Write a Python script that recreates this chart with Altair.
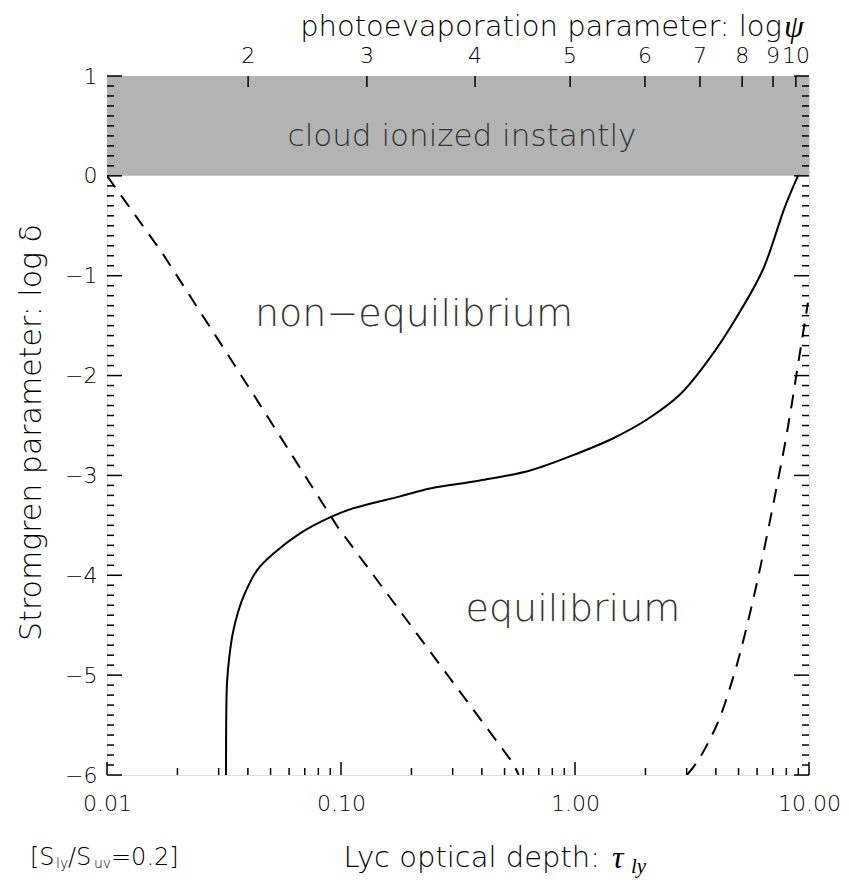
import altair as alt
import pandas as pd

# ---- data ----
solid_tau = [0.03226, 0.03232, 0.03257, 0.03338, 0.03455, 0.03629, 0.03850, 0.04375, 0.05223,
             0.0668, 0.0897, 0.1125, 0.1787, 0.240, 0.392, 0.643, 1.05, 1.45, 2.03, 2.81,
             3.78, 4.92, 6.35, 7.89, 8.97]
solid_logd = [-6.0, -5.45, -5.08, -4.80, -4.57, -4.37, -4.20, -3.95, -3.77,
              -3.58, -3.42, -3.33, -3.21, -3.13, -3.05, -2.95, -2.77, -2.63, -2.44, -2.19,
              -1.82, -1.41, -0.94, -0.31, 0.0]

dash1_tau = [0.01, 0.0172, 0.0428, 0.0970, 0.543, 0.575]
dash1_logd = [0.0, -0.77, -2.21, -3.52, -5.88, -6.0]

dash2_tau = [3.010, 3.322, 3.702, 4.166, 4.924, 5.764, 6.615, 7.297, 7.898, 8.462, 8.974, 9.427, 9.90]
dash2_logd = [-6.0, -5.87, -5.68, -5.42, -4.89, -4.25, -3.60, -3.10, -2.68, -2.27, -1.89, -1.58, -1.27]

psi_labels = ["2", "3", "4", "5", "6", "7", "8", "9", "10"]
psi_tau = [0.0401, 0.129, 0.374, 0.953, 1.99, 3.42, 5.18, 7.02, 8.79]

x_major = [0.01, 0.1, 1.0, 10.0]
x_minor = [m * 10.0 ** e for e in (-2, -1, 0) for m in range(2, 10)]
y_major = list(range(-6, 2))
y_minor = [i / 10 for i in range(-60, 11) if i % 10 != 0]

region_labels = ["cloud ionized instantly", "non\u2212equilibrium", "equilibrium"]
region_x = [0.329, 0.205, 0.98]
region_y = [0.39, -1.39, -4.35]
region_size = [31, 38, 38]

W, H = 702, 699
FONT = "DejaVu Sans"
GREEK = "Liberation Serif"
FW = 200

xscale = alt.Scale(type="log", domain=[0.01, 10])
yscale = alt.Scale(domain=[-6, 1], nice=False, zero=False)

xaxis = alt.Axis(values=x_major, format=".2f", ticks=False, domain=False, grid=False,
                 labelFontSize=22, labelPadding=18, labelFlush=False, title=None,
                 labelFont=FONT, labelFontWeight=FW, labelColor="black")
yaxis = alt.Axis(values=y_major, format="d", ticks=False, domain=False, grid=False,
                 labelFontSize=22, labelPadding=10, title="Stromgren parameter: log \u03b4",
                 titleFontSize=30, titleFont=FONT, titleFontWeight=FW, titlePadding=18,
                 titleY=356,
                 labelFont=FONT, labelFontWeight=FW, labelColor="black", titleColor="black")


def X(f):
    return alt.X(f, type="quantitative", scale=xscale, axis=xaxis)


def Y(f):
    return alt.Y(f, type="quantitative", scale=yscale, axis=yaxis)


band = alt.Chart(pd.DataFrame({"x": [0.01], "x2": [10.0], "y": [0.0], "y2": [1.0]})).mark_rect(
    color="#b3b3b3").encode(x=X("x"), x2="x2", y=Y("y"), y2="y2")

solid = alt.Chart(pd.DataFrame({"x": solid_tau, "y": solid_logd})).mark_line(
    color="black", strokeWidth=2, interpolate="catmull-rom", clip=True).encode(x=X("x"), y=Y("y"))
dash1 = alt.Chart(pd.DataFrame({"x": dash1_tau, "y": dash1_logd})).mark_line(
    color="black", strokeWidth=2, strokeDash=[14, 10], interpolate="linear", clip=True).encode(
    x=X("x"), y=Y("y"))
dash2 = alt.Chart(pd.DataFrame({"x": dash2_tau, "y": dash2_logd})).mark_line(
    color="black", strokeWidth=2, strokeDash=[14, 10], interpolate="catmull-rom", clip=True).encode(
    x=X("x"), y=Y("y"))


# inward ticks
def xticks(vals, length):
    return alt.Chart(pd.DataFrame({"x": vals})).mark_rule(color="black", strokeWidth=1.5).encode(
        x=X("x"), y=alt.value(H), y2=alt.value(H - length))


def yticks(vals, length, right=False):
    x0 = W if right else 0
    x1 = W - length if right else length
    return alt.Chart(pd.DataFrame({"y": vals})).mark_rule(color="black", strokeWidth=1.5).encode(
        y=Y("y"), x=alt.value(x0), x2=alt.value(x1))


top_ticks = alt.Chart(pd.DataFrame({"x": psi_tau})).mark_rule(color="black", strokeWidth=1.5).encode(
    x=X("x"), y=alt.value(0), y2=alt.value(11))
top_labels = alt.Chart(pd.DataFrame({"x": psi_tau, "t": psi_labels})).mark_text(
    font=FONT, fontWeight=FW, fontSize=22, baseline="middle", color="black").encode(
    x=X("x"), y=alt.value(-20), text="t:N")

regions = alt.Chart(pd.DataFrame({"x": region_x, "y": region_y, "t": region_labels, "s": region_size})).mark_text(
    font=FONT, fontWeight=FW, baseline="middle", color="#333333").encode(
    x=X("x"), y=Y("y"), text="t:N", size=alt.Size("s:Q", scale=None, legend=None))


def label(txt, px, py, size, align="left", greek=False, baseline="middle"):
    kw = dict(font=FONT, fontWeight=FW, fontSize=size, align=align, baseline=baseline, color="black")
    if greek:
        kw.update(font=GREEK, fontStyle="italic", fontWeight="normal")
    return alt.Chart(pd.DataFrame({"t": [txt]})).mark_text(**kw).encode(
        x=alt.value(px), y=alt.value(py), text="t:N")


OX, OY = 107, 76  # page position of plot origin
texts = [
    label("photoevaporation parameter: log", 782 - OX, 27 - OY, 29, align="right"),
    label("\u03c8", 784 - OX, 27 - OY, 32, greek=True),
    label("Lyc optical depth:", 600 - OX, 858 - OY, 29, align="right"),
    label("\u03c4", 612 - OX, 858 - OY, 32, greek=True),
    label("ly", 631 - OX, 867 - OY, 21, greek=True),
    label("[S", 30 - OX, 858 - OY, 24),
    label("ly", 56 - OX, 864 - OY, 14),
    label("/S", 68 - OX, 858 - OY, 24),
    label("uv", 94 - OX, 864 - OY, 14),
    label("=0.2]", 111 - OX, 858 - OY, 24),
]

chart = alt.layer(
    band, solid, dash1, dash2,
    xticks(x_major, 13), xticks(x_minor, 7),
    yticks(y_major, 15), yticks(y_minor, 7),
    yticks(y_major, 15, right=True), yticks(y_minor, 7, right=True),
    top_ticks, top_labels, regions, *texts
).properties(
    width=W, height=H,
    autosize=alt.AutoSizeParams(type="none"),
    padding={"left": 99, "top": 68, "right": 32, "bottom": 112},
).configure_view(stroke="black", strokeWidth=2).configure(background="white")

chart.save("out.html", embed_options={"renderer": "svg", "actions": False})
